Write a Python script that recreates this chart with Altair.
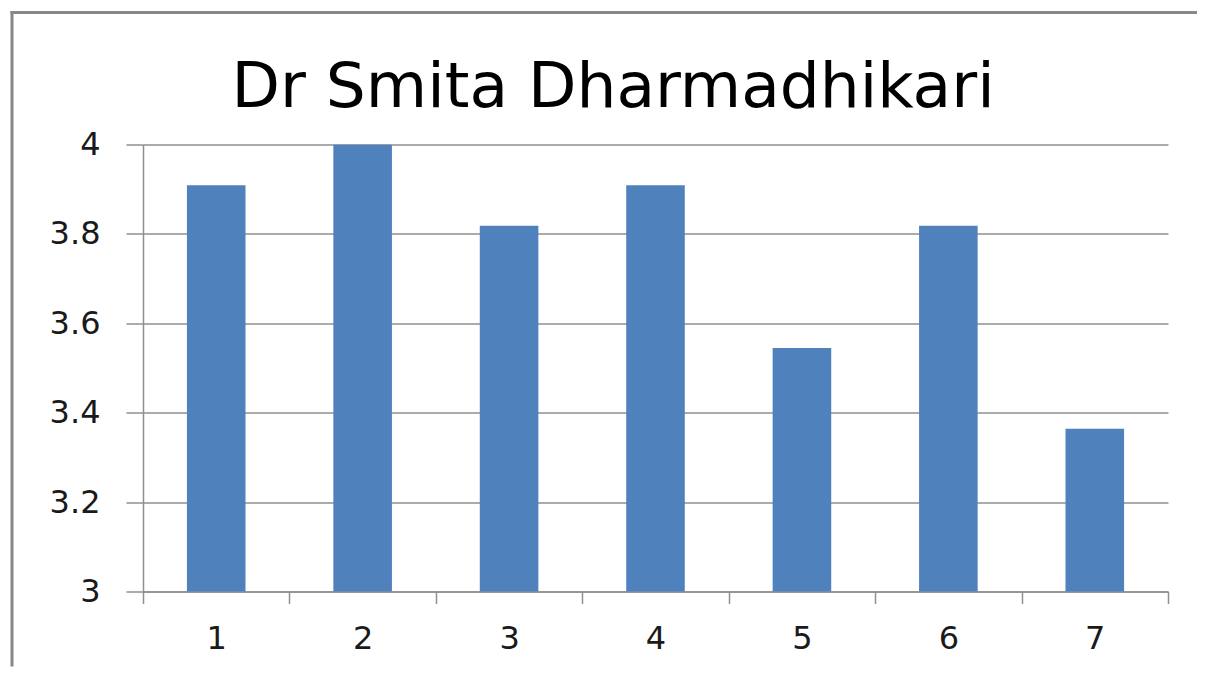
import altair as alt
import pandas as pd

categories = ["1", "2", "3", "4", "5", "6", "7"]
values = [3.909, 4.0, 3.818, 3.909, 3.545, 3.818, 3.364]
y_ticks = [3.0, 3.2, 3.4, 3.6, 3.8, 4.0]
title_text = "Dr Smita Dharmadhikari"

df = pd.DataFrame({"cat": categories, "val": values})

GRAY = "#8f8f8f"
LABEL_FONT = "DejaVu Sans"

bars = alt.Chart(df).mark_bar(
    color="#4f81bd", clip=True, width=alt.RelativeBandSize(0.4)
).encode(
    x=alt.X(
        "cat:N",
        sort=categories,
        scale=alt.Scale(paddingInner=0, paddingOuter=0),
        axis=alt.Axis(
            title=None,
            labelAngle=0,
            tickBand="extent",
            tickSize=12,
            tickWidth=1.5,
            tickColor=GRAY,
            domainColor=GRAY,
            domainWidth=1.5,
            labelFont=LABEL_FONT,
            labelFontSize=32,
            labelColor="#1a1a1a",
            labelPadding=20,
            grid=False,
        ),
    ),
    y=alt.Y(
        "val:Q",
        scale=alt.Scale(domain=[3, 4], nice=False, zero=False),
        axis=alt.Axis(
            title=None,
            values=y_ticks,
            format="~g",
            tickSize=17,
            tickWidth=1.5,
            tickColor=GRAY,
            domainColor=GRAY,
            domainWidth=1.5,
            gridColor=GRAY,
            gridWidth=1.5,
            labelFont=LABEL_FONT,
            labelFontSize=32,
            labelColor="#1a1a1a",
            labelPadding=26,
        ),
    ),
)

frame = alt.Data(values=[{"title": title_text}])
title_mark = alt.Chart(frame).mark_text(
    font=LABEL_FONT, fontSize=63, color="#000000", align="center", baseline="alphabetic"
).encode(text="title:N", x=alt.value(470), y=alt.value(-38))

top_border = alt.Chart(frame).mark_rule(color="#888888", strokeWidth=3).encode(
    x=alt.value(-132.5), x2=alt.value(1054), y=alt.value(-132)
)
left_border = alt.Chart(frame).mark_rule(color="#888888", strokeWidth=3).encode(
    x=alt.value(-131), y=alt.value(-133.5), y2=alt.value(522)
)

chart = alt.layer(bars, title_mark, top_border, left_border).properties(
    width=1025,
    height=447,
    padding={"left": 1, "top": 1.5, "right": 0, "bottom": 0},
).configure_view(stroke=None)

chart.save("out.html", embed_options={"renderer": "svg", "actions": False})
